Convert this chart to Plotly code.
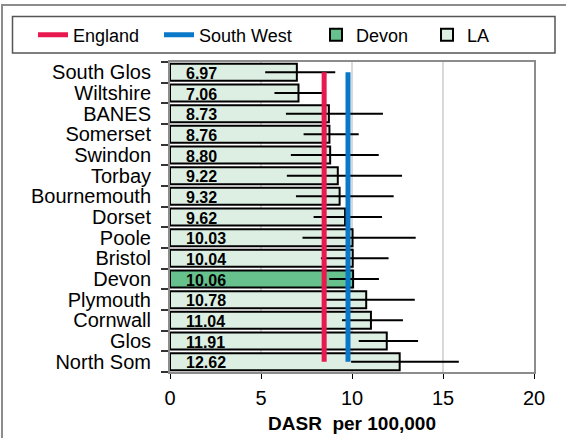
import plotly.graph_objects as go

# values
las = ["South Glos", "Wiltshire", "BANES", "Somerset", "Swindon", "Torbay",
       "Bournemouth", "Dorset", "Poole", "Bristol", "Devon", "Plymouth",
       "Cornwall", "Glos", "North Som"]
dasr = [6.97, 7.06, 8.73, 8.76, 8.80, 9.22, 9.32, 9.62, 10.03, 10.04, 10.06,
        10.78, 11.04, 11.91, 12.62]
ci_low = [5.23, 5.74, 6.37, 7.34, 6.64, 6.42, 6.92, 7.89, 7.28, 8.29, 8.75,
          8.55, 9.45, 10.37, 9.95]
ci_high = [9.08, 8.40, 11.70, 10.37, 11.47, 12.75, 12.29, 11.65, 13.50, 12.01,
           11.48, 13.45, 12.80, 13.63, 15.87]
england = 8.47
south_west = 9.78
x_ticks = [0, 5, 10, 15, 20]

FONT = "Liberation Sans, Arial, sans-serif"
RED = "#e8194f"
BLUE = "#0a78c8"
DEVON_FILL = "#66c18c"
LA_FILL = "#ddefe3"


def pick(vals, devon):
    return [v for la, v in zip(las, vals) if (la == "Devon") == devon]


fig = go.Figure()

for devon, name, fill, leg in [(False, "LA", LA_FILL, "legend5"),
                               (True, "Devon", DEVON_FILL, "legend4")]:
    names = pick(las, devon)
    vals = pick(dasr, devon)
    lo = pick(ci_low, devon)
    hi = pick(ci_high, devon)
    fig.add_trace(go.Bar(
        y=names, x=vals, orientation="h", name=name, legend=leg,
        marker=dict(color=fill, line=dict(color="black", width=2)),
        error_x=dict(type="data", symmetric=False,
                     array=[h - v for h, v in zip(hi, vals)],
                     arrayminus=[v - l for v, l in zip(vals, lo)],
                     color="black", thickness=2, width=0),
    ))

for val, name, col, leg in [(england, "England", RED, "legend2"),
                            (south_west, "South West", BLUE, "legend3")]:
    fig.add_trace(go.Scatter(
        x=[val, val], y=[las[0], las[-1]], mode="lines", name=name,
        legend=leg, line=dict(color=col, width=5),
    ))

for la, v in zip(las, dasr):
    fig.add_annotation(x=0, y=la, text=f"<b>{v:.2f}</b>", showarrow=False,
                       xanchor="left", xshift=14, yshift=-1,
                       font=dict(family=FONT, size=16, color="black"))


def px_x(p):
    return (p - 170) / 364


def px_y(p):
    return (372 - p) / 310


leg_common = dict(orientation="h", yanchor="middle", y=px_y(35),
                  xanchor="left", bgcolor="rgba(0,0,0,0)", borderwidth=0,
                  font=dict(family=FONT, size=18, color="black"))

fig.update_layout(
    width=566, height=438,
    margin=dict(l=170, r=32, t=62, b=66, autoexpand=False),
    paper_bgcolor="white", plot_bgcolor="white",
    barmode="overlay", bargap=0.18,
    font=dict(family=FONT, size=20, color="black"),
    legend2=dict(x=px_x(33), **leg_common),
    legend3=dict(x=px_x(159), **leg_common),
    legend4=dict(x=px_x(316), **leg_common),
    legend5=dict(x=px_x(427), **leg_common),
    xaxis=dict(range=[0, 20], tickvals=x_ticks, showgrid=True,
               gridcolor="#d9d9d9", gridwidth=1.5, zeroline=False,
               showline=True, linecolor="#8c8c8c", linewidth=2, mirror=True,
               ticks="outside", ticklen=5, tickcolor="black", tickwidth=1,
               ticklabelstandoff=2,
               tickfont=dict(family=FONT, size=20, color="black"),
               title=dict(text="<b>DASR  per 100,000</b>", standoff=9,
                          font=dict(family=FONT, size=19, color="black"))),
    yaxis=dict(categoryorder="array", categoryarray=las,
               range=[len(las) - 0.5, -0.5],
               tickmode="array", tickvals=las, ticktext=las,
               showline=True, linecolor="#8c8c8c", linewidth=2, mirror=True,
               ticks="outside", tickson="boundaries", ticklen=7,
               tickcolor="#333", tickwidth=1.5, ticklabelstandoff=13,
               tickfont=dict(family=FONT, size=20, color="black")),
    shapes=[
        dict(type="rect", xref="paper", yref="paper",
             x0=px_x(2), x1=px_x(572), y0=px_y(442), y1=px_y(5),
             line=dict(color="#8c8c8c", width=2), fillcolor="rgba(0,0,0,0)",
             layer="below"),
        dict(type="rect", xref="paper", yref="paper",
             x0=px_x(12.5), x1=px_x(555), y0=px_y(53), y1=px_y(16.5),
             line=dict(color="#555", width=1.5), fillcolor="rgba(0,0,0,0)",
             layer="below"),
    ],
)

fig.write_html("out.html", config={"displayModeBar": False},
               post_script="document.body.style.margin='0';")
